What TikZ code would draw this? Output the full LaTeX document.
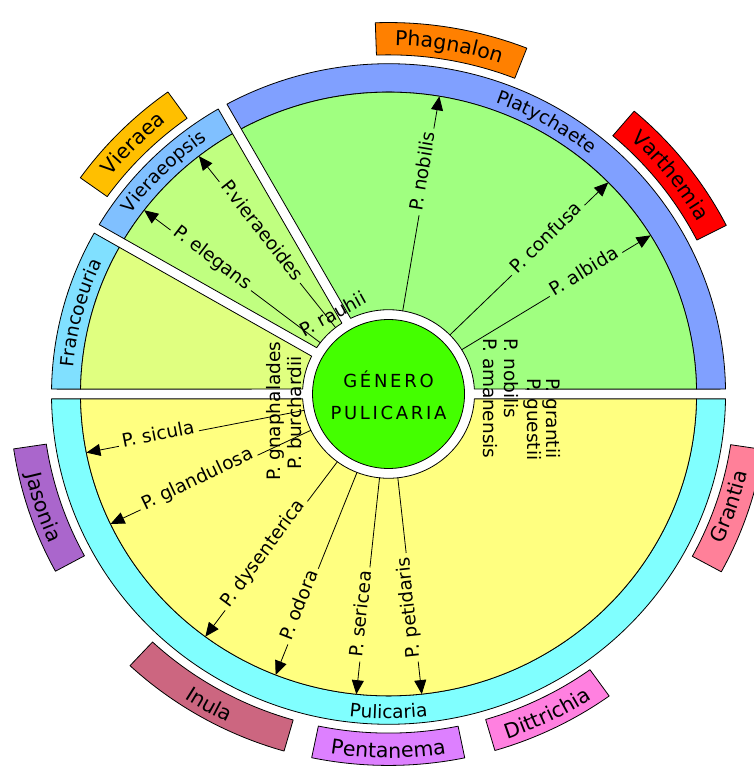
\documentclass[tikz,border=0pt]{standalone}
\usepackage{fontspec}
\newfontfamily\dv{DejaVu Sans}
\newfontfamily\dvwide[LetterSpace=15]{DejaVu Sans}
\usetikzlibrary{arrows.meta,decorations.text}
\definecolor{genero}{HTML}{44FF00}
\definecolor{platyin}{HTML}{A0FF80}
\definecolor{platyband}{HTML}{80A0FF}
\definecolor{vieraeoin}{HTML}{C0FF80}
\definecolor{vieraeoband}{HTML}{80C0FF}
\definecolor{francin}{HTML}{E0FF80}
\definecolor{francband}{HTML}{80E0FF}
\definecolor{pulin}{HTML}{FFFF80}
\definecolor{pulband}{HTML}{80FFFF}
\definecolor{phagnalon}{HTML}{FF8000}
\definecolor{varthemia}{HTML}{FF0000}
\definecolor{vieraea}{HTML}{FFBF00}
\definecolor{jasonia}{HTML}{AA66CC}
\definecolor{grantia}{HTML}{FF8099}
\definecolor{inula}{HTML}{CC6680}
\definecolor{pentanema}{HTML}{DD80FF}
\definecolor{dittrichia}{HTML}{FF80E0}
\newcommand\sppfont{\fontsize{18.5}{22}\dv}
\newcommand\boxfont{\fontsize{20.5}{24}\dv}
\newcommand\ttlfont{\fontsize{18}{22}\dvwide}
\newcommand\sgap{5}
\tikzset{
  every picture/.style={line join=round, line cap=round},
  spp/.style={font=\sppfont, inner xsep=4pt, inner ysep=1pt},
  vlab/.style={font=\sppfont, inner sep=0pt},
  bandtext/.style={decorate, decoration={text along path, text align=center, text={|\sppfont|#1}}},
  boxtext/.style={decorate, decoration={text along path, text align=center, text={|\boxfont|#1}}},
}

\begin{document}
\begin{tikzpicture}[x=1pt,y=0.98pt,line width=0.8pt,>={Triangle[length=14pt,width=12pt]}]
\useasboundingbox (-388.5,-381.6) rectangle (364.5,402);
% sectors: band first, then the inner part
\foreach \a/\b/\inner/\band in {0/119.5/platyin/platyband,119.5/150/vieraeoin/vieraeoband,150/180/francin/francband,180/360/pulin/pulband}{
  \pgfmathsetmacro\dO{asin(\sgap/337)}
  \pgfmathsetmacro\dM{asin(\sgap/308)}
  \pgfmathsetmacro\dI{asin(\sgap/86)}
  \draw[fill=\band](\a+\dO:337)arc[start angle=\a+\dO,end angle=\b-\dO,radius=337]--(\b-\dM:308)arc[start angle=\b-\dM,end angle=\a+\dM,radius=308]--cycle;
  \draw[fill=\inner](\a+\dM:308)arc[start angle=\a+\dM,end angle=\b-\dM,radius=308]--(\b-\dI:86)arc[start angle=\b-\dI,end angle=\a+\dI,radius=86]--cycle;
}
\path[bandtext=Platychaete](119:316.3)arc[start angle=119,end angle=1,radius=316.3];
\path[bandtext=Vieraeopsis](149.5:316.3)arc[start angle=149.5,end angle=120,radius=316.3];
\path[bandtext=Francoeuria](179.5:316.3)arc[start angle=179.5,end angle=150.5,radius=316.3];
\path[bandtext=Pulicaria](181:331)arc[start angle=181,end angle=359,radius=331];
% species reading outwards
\foreach \ang/\nm/\col [count=\i] in {80.5/P. nobilis/platyin,44.5/P. confusa/platyin,31.7/P. albida/platyin}{
  \coordinate (r\i-in) at (\ang:86);
  \coordinate (r\i-out) at (\ang:308);
  \draw[->](r\i-in)--(r\i-out);
  \node[spp,fill=\col,rotate=\ang,anchor=mid east](r\i) at (\ang:275){\nm};
}
% species reading inwards
\foreach \ang/\nm/\col [count=\i] in {142.5/P. elegans/vieraeoin,128/P.vieraeoides/vieraeoin,191.2/P. sicula/pulin,205.5/P. glandulosa/pulin,233.5/P. dysenterica/pulin,248.5/P. odora/pulin,264/P. sericea/pulin,276.2/P. petidaris/pulin}{
  \coordinate (l\i-in) at (\ang:86);
  \coordinate (l\i-out) at (\ang:308);
  \draw[->](l\i-in)--(l\i-out);
  \node[spp,fill=\col,rotate=\ang-180,anchor=mid west](l\i) at (\ang:275){\nm};
}
\node[vlab,rotate=29](rauhii) at (-56,81.6){P. rauhii};
\node[vlab,rotate=90,anchor=west](gnaph) at (-113.5,-88.8){P. gnaphalades};
\node[vlab,rotate=90,anchor=west](burch) at (-93.5,-77.6){P. burchardii};
\node[vlab,rotate=-90,anchor=west](amanen) at (101.5,57.1){P. amanensis};
\node[vlab,rotate=-90,anchor=west](nobil) at (122.5,57.1){P. nobilis};
\node[vlab,rotate=-90,anchor=west](guest) at (144,16.3){P. guestii};
\node[vlab,rotate=-90,anchor=west](grant) at (163,16.3){P. grantii};
% centre
\draw[fill=genero](0,0)circle[radius=76];
\node[font=\ttlfont,anchor=base](gen1) at (0,7.1){GÉNERO};
\node[font=\ttlfont,anchor=base](gen2) at (0,-26.5){PULICARIA};
% outer genera
\foreach \a/\b/\col in {68.6/92/phagnalon,27/49.6/varthemia,125.6/144.4/vieraea,188.5/208.5/jasonia,227/254/inula,258.3/281.6/pentanema,286.3/305.6/dittrichia,331.4/351.4/grantia}
  \draw[fill=\col](\a:346)arc[start angle=\a,end angle=\b,radius=346]--(\b:379)arc[start angle=\b,end angle=\a,radius=379]--cycle;
\path[boxtext=Phagnalon](92:355.5)arc[start angle=92,end angle=68.6,radius=355.5];
\path[boxtext=Varthemia](49.6:355.5)arc[start angle=49.6,end angle=27,radius=355.5];
\path[boxtext=Vieraea](144.4:355.5)arc[start angle=144.4,end angle=125.6,radius=355.5];
\path[boxtext=Jasonia](188.5:371.5)arc[start angle=188.5,end angle=208.5,radius=371.5];
\path[boxtext=Inula](227:371.5)arc[start angle=227,end angle=254,radius=371.5];
\path[boxtext=Pentanema](258.3:371.5)arc[start angle=258.3,end angle=281.6,radius=371.5];
\path[boxtext=Dittrichia](286.3:371.5)arc[start angle=286.3,end angle=305.6,radius=371.5];
\path[boxtext=Grantia](331.4:367.5)arc[start angle=331.4,end angle=351.4,radius=367.5];
\end{tikzpicture}
\end{document}
